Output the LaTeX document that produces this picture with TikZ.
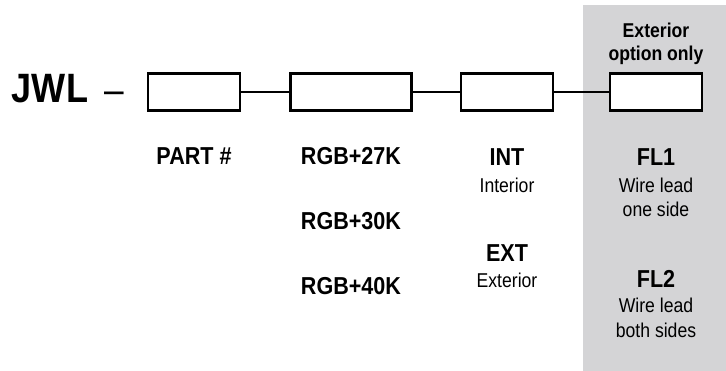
\documentclass[tikz,border=0pt]{standalone}
\usepackage{fontspec}
\setmainfont{Liberation Sans}[FakeStretch=0.88]
\definecolor{panelgray}{HTML}{D4D4D6}
\begin{document}
\begin{tikzpicture}[x=1pt,y=-1pt,
  slot/.style={draw=black,line width=2.4pt,fill=white,minimum width=92pt,minimum height=37pt,inner sep=0pt},
  slotwide/.style={slot,minimum width=121pt},
  link/.style={line width=1.8pt},
  code/.style={font=\fontsize{24.5}{26}\selectfont\bfseries,anchor=base,inner sep=0pt},
  desc/.style={font=\fontsize{20}{24}\selectfont,anchor=base,inner sep=0pt},
  head/.style={font=\fontsize{20}{24}\selectfont\bfseries,anchor=base,inner sep=0pt}]
\useasboundingbox (0,0) rectangle (726,371);
\fill[panelgray] (583,5) rectangle (726,371);
% header
\node[font=\fontsize{41}{42}\selectfont\bfseries,anchor=base,inner sep=0pt] (jwl) at (50,103) {JWL};
\node[font=\fontsize{40}{40}\selectfont,anchor=base,inner sep=0pt] (dash) at (114,104) {--};
% slots
\node[slot] (b1) at (194,92) {};
\node[slotwide] (b2) at (351,92) {};
\node[slot] (b3) at (507,92) {};
\node[slot] (b4) at (656,92) {};
\draw[link] (b1.east) -- (b2.west);
\draw[link] (b2.east) -- (b3.west);
\draw[link] (b3.east) -- (b4.west);
% panel heading
\node[head] (exth1) at (656,38) {Exterior};
\node[head] (exth2) at (656,61) {option only};
% column 1
\node[code] (part) at (194,165) {PART \#};
% column 2
\node[code] (rgb27) at (351,165) {RGB+27K};
\node[code] (rgb30) at (351,230) {RGB+30K};
\node[code] (rgb40) at (351,295) {RGB+40K};
% column 3
\node[code] (int) at (507,166) {INT};
\node[desc] (intd) at (507,193) {Interior};
\node[code] (ext) at (507,262) {EXT};
\node[desc] (extd) at (507,288) {Exterior};
% column 4
\node[code] (fl1) at (656,166) {FL1};
\node[desc] (fl1a) at (656,193) {Wire lead};
\node[desc] (fl1b) at (656,217) {one side};
\node[code] (fl2) at (656,288) {FL2};
\node[desc] (fl2a) at (656,313) {Wire lead};
\node[desc] (fl2b) at (656,338) {both sides};
\end{tikzpicture}
\end{document}
